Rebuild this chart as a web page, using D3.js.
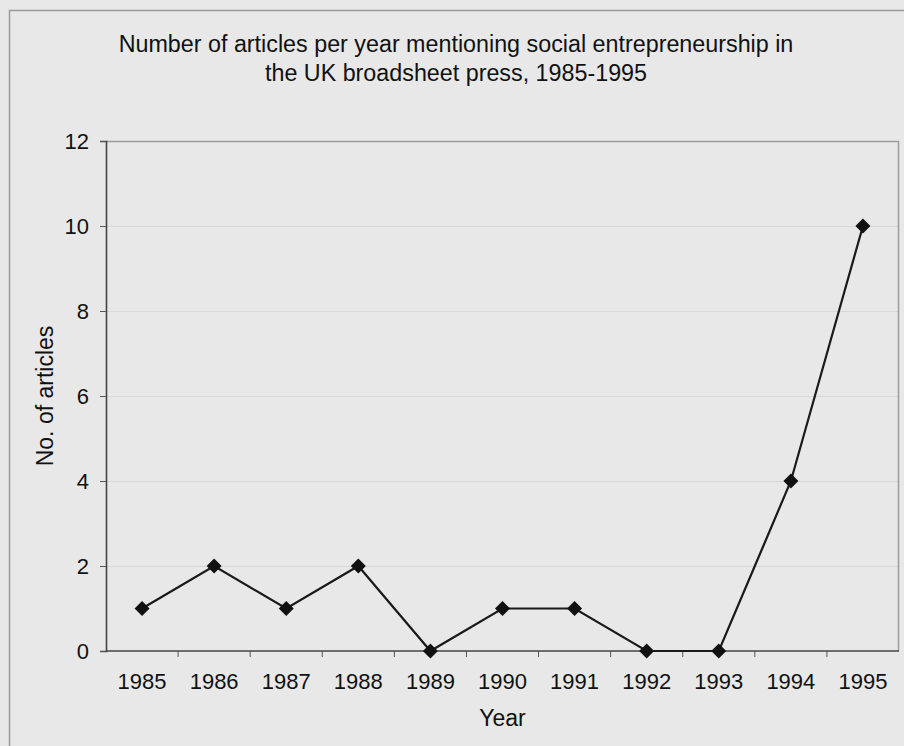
<!DOCTYPE html>
<html>
<head>
<meta charset="utf-8">
<script src="https://cdn.jsdelivr.net/npm/d3@7"></script>
<style>
  html, body { margin: 0; padding: 0; background: #e8e8e8; }
  svg { display: block; }
  text { font-family: Arial, "Liberation Sans", sans-serif; fill: #111; }
</style>
</head>
<body>
<svg id="chart" width="904" height="746"></svg>
<script>
// Articles per year mentioning social entrepreneurship
const years = ["1985", "1986", "1987", "1988", "1989", "1990", "1991", "1992", "1993", "1994", "1995"];
const articles = [1, 2, 1, 2, 0, 1, 1, 0, 0, 4, 10];
const yTicks = [0, 2, 4, 6, 8, 10, 12];
const titleLines = [
  "Number of articles per year mentioning social entrepreneurship in",
  "the UK broadsheet press, 1985-1995"
];

const svg = d3.select("#chart");
const W = 904, H = 746;
const plot = { left: 106, right: 899, top: 141, bottom: 651 };

// chart background and outer frame
svg.append("rect").attr("width", W).attr("height", H).attr("fill", "#e8e8e8");
svg.append("path")
  .attr("d", `M9.5,${H} V10.5 H${W}`)
  .attr("fill", "none").attr("stroke", "#9a9a9a").attr("stroke-width", 1.5);

const x = d3.scaleBand().domain(years).range([plot.left, plot.right]).padding(0);
const y = d3.scaleLinear().domain([0, 12]).range([plot.bottom, plot.top]);

// horizontal gridlines
svg.append("g").selectAll("line")
  .data(yTicks.filter(t => t > 0 && t < 12))
  .join("line")
  .attr("x1", plot.left).attr("x2", plot.right)
  .attr("y1", d => y(d) + 0.5).attr("y2", d => y(d) + 0.5)
  .attr("stroke", "#d8d8d8").attr("stroke-width", 1);

// plot frame: top and right in light gray
svg.append("path")
  .attr("d", `M${plot.left},${plot.top + 0.5} H${plot.right - 0.5} V${plot.bottom}`)
  .attr("fill", "none").attr("stroke", "#9c9c9c").attr("stroke-width", 1.5);

// y axis
const yAxis = svg.append("g")
  .attr("transform", `translate(${plot.left},0)`)
  .call(d3.axisLeft(y).tickValues(yTicks).tickSize(6).tickPadding(11));
yAxis.select(".domain").attr("stroke", "#444").attr("stroke-width", 1.6);
yAxis.selectAll(".tick line").attr("stroke", "#555");
yAxis.selectAll(".tick text").attr("font-size", 22).style("font-family", "Arial, 'Liberation Sans', sans-serif").attr("fill", "#111");

// x axis with ticks between categories
const xAxisG = svg.append("g").attr("transform", `translate(0,${plot.bottom})`);
xAxisG.append("line")
  .attr("x1", plot.left).attr("x2", plot.right)
  .attr("stroke", "#444").attr("stroke-width", 1.6);
xAxisG.selectAll("line.tk")
  .data(years.slice(1))
  .join("line").attr("class", "tk")
  .attr("x1", d => x(d)).attr("x2", d => x(d))
  .attr("y1", 0).attr("y2", 6)
  .attr("stroke", "#555");
xAxisG.selectAll("text.lbl")
  .data(years)
  .join("text").attr("class", "lbl")
  .attr("x", d => x(d) + x.bandwidth() / 2)
  .attr("y", 38)
  .attr("text-anchor", "middle")
  .attr("font-size", 22)
  .text(d => d);

// data line and diamond markers
const cx = d => x(d) + x.bandwidth() / 2;
svg.append("path")
  .datum(articles)
  .attr("d", d3.line().x((d, i) => cx(years[i])).y(d => y(d)))
  .attr("fill", "none").attr("stroke", "#1a1a1a").attr("stroke-width", 2.2);
svg.append("g").selectAll("path")
  .data(articles)
  .join("path")
  .attr("transform", (d, i) => `translate(${cx(years[i])},${y(d)})`)
  .attr("d", "M0,-7.5 L7.5,0 L0,7.5 L-7.5,0 Z")
  .attr("fill", "#111");

// titles
svg.append("g").selectAll("text")
  .data(titleLines)
  .join("text")
  .attr("x", 456)
  .attr("y", (d, i) => 52 + i * 29)
  .attr("text-anchor", "middle")
  .attr("font-size", 23.3)
  .text(d => d);

svg.append("text")
  .attr("x", (plot.left + plot.right) / 2)
  .attr("y", 726)
  .attr("text-anchor", "middle")
  .attr("font-size", 23)
  .text("Year");

svg.append("text")
  .attr("transform", `translate(53,${(plot.top + plot.bottom) / 2}) rotate(-90)`)
  .attr("text-anchor", "middle")
  .attr("font-size", 23)
  .text("No. of articles");
</script>
</body>
</html>
